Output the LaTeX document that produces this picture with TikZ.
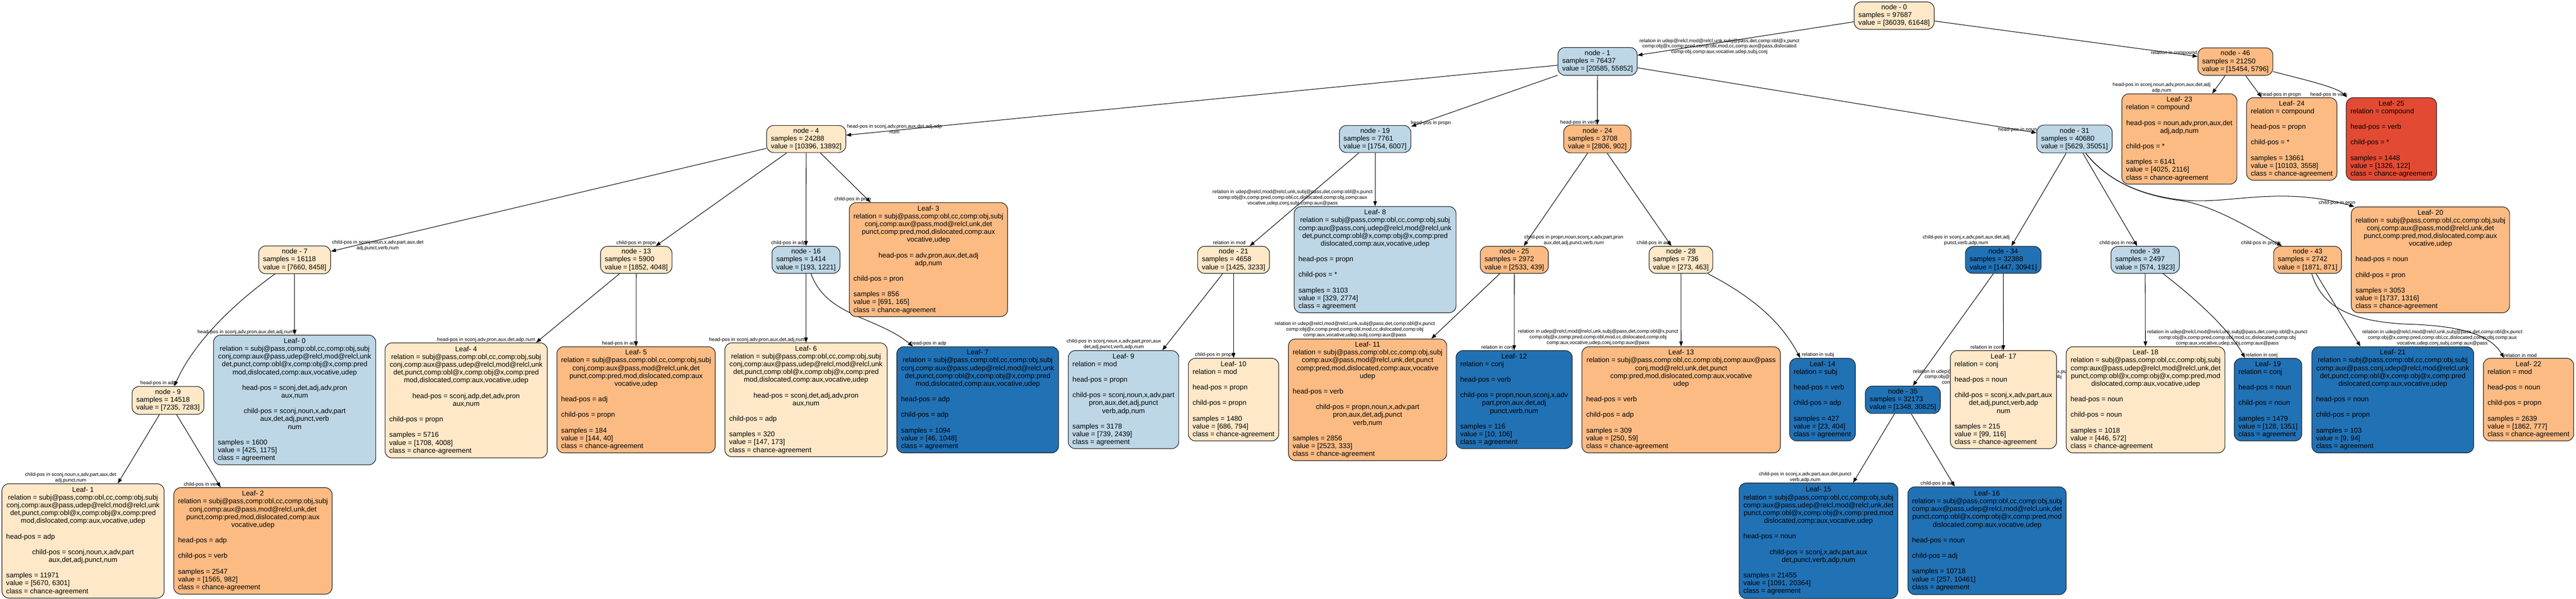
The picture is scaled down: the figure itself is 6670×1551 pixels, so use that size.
\documentclass[tikz,border=0pt]{standalone}
\usepackage{fontspec}
\setmainfont{Liberation Sans}
\usetikzlibrary{arrows.meta,calc}
\pgfdeclarelayer{bgw}
\pgfdeclarelayer{edges}
\pgfsetlayers{bgw,edges,main}
\definecolor{cBeige}{HTML}{FEE8C8}
\definecolor{cOrange}{HTML}{FDBB84}
\definecolor{cRed}{HTML}{E34A33}
\definecolor{cLBlue}{HTML}{BDD7E7}
\definecolor{cDBlue}{HTML}{2171B5}
\newcommand\tcS{\vrule width0pt height14.7pt depth5.5pt}
\newcommand\tcC[1]{\hbox to\hsize{\hfil\tcS#1\hfil}}
\newcommand\tcL[1]{\hbox to\hsize{\tcS#1\hfil}}
\newcommand\tcB{\hbox to\hsize{\tcS\hfil}}
\newcommand\tcBox[2]{\vbox{\hsize=#1pt\relax\baselineskip=20.2pt\lineskiplimit=-100pt\lineskip=0pt\relax#2}}
\newcommand\tcNode[3]{\tcC{node - #1}\tcL{samples = #2}\tcL{value = #3}}
\newcommand\tcEnd[3]{\tcL{samples = #1}\tcL{value = #2}\tcL{class = #3}}
\newcommand\tcRelA{\tcC{relation = subj@pass,comp:obl,cc,comp:obj,subj}\tcC{conj,comp:aux@pass,udep@relcl,mod@relcl,unk}\tcC{det,punct,comp:obl@x,comp:obj@x,comp:pred}\tcC{mod,dislocated,comp:aux,vocative,udep}}
\newcommand\tcRelB{\tcC{relation = subj@pass,comp:obl,cc,comp:obj,subj}\tcC{conj,comp:aux@pass,mod@relcl,unk,det}\tcC{punct,comp:pred,mod,dislocated,comp:aux}\tcC{vocative,udep}}
\newcommand\tcRelC{\tcC{relation = subj@pass,comp:obl,cc,comp:obj,subj}\tcC{comp:aux@pass,conj,udep@relcl,mod@relcl,unk}\tcC{det,punct,comp:obl@x,comp:obj@x,comp:pred}\tcC{dislocated,comp:aux,vocative,udep}}
\newcommand\tcRelD{\tcC{relation = subj@pass,comp:obl,cc,comp:obj,subj}\tcC{comp:aux@pass,udep@relcl,mod@relcl,unk,det}\tcC{punct,comp:obl@x,comp:obj@x,comp:pred,mod}\tcC{dislocated,comp:aux,vocative,udep}}
\begin{document}
\begin{tikzpicture}[x=1pt,y=-1pt,
 tbox/.style={draw=black!85, line width=1.6pt, rounded corners=18pt, inner sep=0pt, font=\fontsize{18.1}{20.2}\selectfont, text=black},
 conn/.style={draw=black, line width=1.4pt, -{Triangle[length=13pt,width=9.5pt]}},
 lbl/.style={font=\fontsize{12.9}{14.5}\selectfont, align=center, inner sep=0pt, text=black}]
\useasboundingbox (0,0) rectangle (6670,1551);
\begin{pgfonlayer}{bgw}
\fill[white] (0,0) rectangle (6670,1551);
\end{pgfonlayer}

% ---------- internal nodes ----------
\node[tbox, fill=cBeige, minimum width=207pt, minimum height=71pt] (n0) at (4904.5,40.5) {\tcBox{185}{\tcNode{0}{97687}{[36039, 61648]}}};
\node[tbox, fill=cLBlue, minimum width=205pt, minimum height=72pt] (n1) at (4136.5,159) {\tcBox{183}{\tcNode{1}{76437}{[20585, 55852]}}};
\node[tbox, fill=cOrange, minimum width=194pt, minimum height=71pt] (n46) at (5788,159.5) {\tcBox{172}{\tcNode{46}{21250}{[15454, 5796]}}};
\node[tbox, fill=cBeige, minimum width=205pt, minimum height=70pt] (n4) at (2087.5,360) {\tcBox{183}{\tcNode{4}{24288}{[10396, 13892]}}};
\node[tbox, fill=cLBlue, minimum width=185pt, minimum height=70pt] (n19) at (3560.5,360) {\tcBox{163}{\tcNode{19}{7761}{[1754, 6007]}}};
\node[tbox, fill=cOrange, minimum width=174pt, minimum height=72pt] (n24) at (4136,360) {\tcBox{152}{\tcNode{24}{3708}{[2806, 902]}}};
\node[tbox, fill=cLBlue, minimum width=195pt, minimum height=72pt] (n31) at (5371.5,360) {\tcBox{173}{\tcNode{31}{40680}{[5629, 35051]}}};
\node[tbox, fill=cBeige, minimum width=186pt, minimum height=72pt] (n7) at (763,673) {\tcBox{164}{\tcNode{7}{16118}{[7660, 8458]}}};
\node[tbox, fill=cBeige, minimum width=185pt, minimum height=70pt] (n13) at (1647.5,673) {\tcBox{163}{\tcNode{13}{5900}{[1852, 4048]}}};
\node[tbox, fill=cLBlue, minimum width=176pt, minimum height=70pt] (n16) at (2087,673) {\tcBox{154}{\tcNode{16}{1414}{[193, 1221]}}};
\node[tbox, fill=cBeige, minimum width=186pt, minimum height=70pt] (n21) at (3194,673) {\tcBox{164}{\tcNode{21}{4658}{[1425, 3233]}}};
\node[tbox, fill=cOrange, minimum width=176pt, minimum height=70pt] (n25) at (3921,673) {\tcBox{154}{\tcNode{25}{2972}{[2533, 439]}}};
\node[tbox, fill=cBeige, minimum width=165pt, minimum height=70pt] (n28) at (4352.5,673) {\tcBox{145}{\tcNode{28}{736}{[273, 463]}}};
\node[tbox, fill=cDBlue, minimum width=196pt, minimum height=70pt] (n34) at (5187,673) {\tcBox{174}{\tcNode{34}{32388}{[1447, 30941]}}};
\node[tbox, fill=cLBlue, minimum width=177pt, minimum height=70pt] (n39) at (5554.5,673) {\tcBox{155}{\tcNode{39}{2497}{[574, 1923]}}};
\node[tbox, fill=cOrange, minimum width=176pt, minimum height=70pt] (n43) at (5975,673) {\tcBox{154}{\tcNode{43}{2742}{[1871, 871]}}};
\node[tbox, fill=cBeige, minimum width=186pt, minimum height=72pt] (n9) at (435,1037) {\tcBox{164}{\tcNode{9}{14518}{[7235, 7283]}}};
\node[tbox, fill=cDBlue, minimum width=194pt, minimum height=71pt] (n35) at (4927,1035.5) {\tcBox{172}{\tcNode{35}{32173}{[1348, 30825]}}};

% ---------- leaves ----------
\node[tbox, fill=cOrange, minimum width=298pt, minimum height=234pt] (L23) at (5643,360) {\tcBox{276}{\tcC{Leaf- 23}\tcL{relation = compound}\tcB\tcC{head-pos = noun,adv,pron,aux,det}\tcC{adj,adp,num}\tcB\tcL{child-pos = *}\tcB\tcEnd{6141}{[4025, 2116]}{chance-agreement}}};
\node[tbox, fill=cOrange, minimum width=234pt, minimum height=214pt] (L24) at (5934,360) {\tcBox{212}{\tcC{Leaf- 24}\tcL{relation = compound}\tcB\tcL{head-pos = propn}\tcB\tcL{child-pos = *}\tcB\tcEnd{13661}{[10103, 3558]}{chance-agreement}}};
\node[tbox, fill=cRed, minimum width=234pt, minimum height=214pt] (L25) at (6192,360) {\tcBox{212}{\tcC{Leaf- 25}\tcL{relation = compound}\tcB\tcL{head-pos = verb}\tcB\tcL{child-pos = *}\tcB\tcEnd{1448}{[1326, 122]}{chance-agreement}}};
\node[tbox, fill=cOrange, minimum width=410pt, minimum height=295pt] (L3) at (2404,672.5) {\tcBox{388}{\tcC{Leaf- 3}\tcRelB\tcB\tcC{head-pos = adv,pron,aux,det,adj}\tcC{adp,num}\tcB\tcL{child-pos = pron}\tcB\tcEnd{856}{[691, 165]}{chance-agreement}}};
\node[tbox, fill=cLBlue, minimum width=419pt, minimum height=275pt] (L8) at (3560.5,672.5) {\tcBox{397}{\tcC{Leaf- 8}\tcRelC\tcB\tcL{head-pos = propn}\tcB\tcL{child-pos = *}\tcB\tcEnd{3103}{[329, 2774]}{agreement}}};
\node[tbox, fill=cOrange, minimum width=410pt, minimum height=274pt] (L20) at (6293,673) {\tcBox{388}{\tcC{Leaf- 20}\tcRelB\tcB\tcL{head-pos = noun}\tcB\tcL{child-pos = pron}\tcB\tcEnd{3053}{[1737, 1316]}{chance-agreement}}};
\node[tbox, fill=cLBlue, minimum width=420pt, minimum height=336pt] (L0) at (763,1036) {\tcBox{398}{\tcC{Leaf- 0}\tcRelA\tcB\tcC{head-pos = sconj,det,adj,adv,pron}\tcC{aux,num}\tcB\tcC{child-pos = sconj,noun,x,adv,part}\tcC{aux,det,adj,punct,verb}\tcC{num}\tcB\tcEnd{1600}{[425, 1175]}{agreement}}};
\node[tbox, fill=cBeige, minimum width=420pt, minimum height=298pt] (L4) at (1207,1037) {\tcBox{398}{\tcC{Leaf- 4}\tcRelA\tcB\tcC{head-pos = sconj,adp,det,adv,pron}\tcC{aux,num}\tcB\tcL{child-pos = propn}\tcB\tcEnd{5716}{[1708, 4008]}{chance-agreement}}};
\node[tbox, fill=cOrange, minimum width=410pt, minimum height=275pt] (L5) at (1647,1035.5) {\tcBox{388}{\tcC{Leaf- 5}\tcRelB\tcB\tcL{head-pos = adj}\tcB\tcL{child-pos = propn}\tcB\tcEnd{184}{[144, 40]}{chance-agreement}}};
\node[tbox, fill=cBeige, minimum width=420pt, minimum height=295pt] (L6) at (2087,1035.5) {\tcBox{398}{\tcC{Leaf- 6}\tcRelA\tcB\tcC{head-pos = sconj,det,adj,adv,pron}\tcC{aux,num}\tcB\tcL{child-pos = adp}\tcB\tcEnd{320}{[147, 173]}{chance-agreement}}};
\node[tbox, fill=cDBlue, minimum width=419pt, minimum height=275pt] (L7) at (2531.5,1035.5) {\tcBox{397}{\tcC{Leaf- 7}\tcRelA\tcB\tcL{head-pos = adp}\tcB\tcL{child-pos = adp}\tcB\tcEnd{1094}{[46, 1048]}{agreement}}};
\node[tbox, fill=cLBlue, minimum width=286pt, minimum height=254pt] (L9) at (2909,1035) {\tcBox{264}{\tcC{Leaf- 9}\tcL{relation = mod}\tcB\tcL{head-pos = propn}\tcB\tcC{child-pos = sconj,noun,x,adv,part}\tcC{pron,aux,det,adj,punct}\tcC{verb,adp,num}\tcB\tcEnd{3178}{[739, 2439]}{agreement}}};
\node[tbox, fill=cBeige, minimum width=234pt, minimum height=214pt] (L10) at (3194,1035) {\tcBox{212}{\tcC{Leaf- 10}\tcL{relation = mod}\tcB\tcL{head-pos = propn}\tcB\tcL{child-pos = propn}\tcB\tcEnd{1480}{[686, 794]}{chance-agreement}}};
\node[tbox, fill=cOrange, minimum width=410pt, minimum height=315pt] (L11) at (3541,1035.5) {\tcBox{388}{\tcC{Leaf- 11}\tcC{relation = subj@pass,comp:obl,cc,comp:obj,subj}\tcC{comp:aux@pass,mod@relcl,unk,det,punct}\tcC{comp:pred,mod,dislocated,comp:aux,vocative}\tcC{udep}\tcB\tcL{head-pos = verb}\tcB\tcC{child-pos = propn,noun,x,adv,part}\tcC{pron,aux,det,adj,punct}\tcC{verb,num}\tcB\tcEnd{2856}{[2523, 333]}{chance-agreement}}};
\node[tbox, fill=cDBlue, minimum width=301pt, minimum height=254pt] (L12) at (3920.5,1035) {\tcBox{279}{\tcC{Leaf- 12}\tcL{relation = conj}\tcB\tcL{head-pos = verb}\tcB\tcC{child-pos = propn,noun,sconj,x,adv}\tcC{part,pron,aux,det,adj}\tcC{punct,verb,num}\tcB\tcEnd{116}{[10, 106]}{agreement}}};
\node[tbox, fill=cOrange, minimum width=514pt, minimum height=275pt] (L13) at (4353,1035.5) {\tcBox{492}{\tcC{Leaf- 13}\tcC{relation = subj@pass,comp:obl,cc,comp:obj,comp:aux@pass}\tcC{conj,mod@relcl,unk,det,punct}\tcC{comp:pred,mod,dislocated,comp:aux,vocative}\tcC{udep}\tcB\tcL{head-pos = verb}\tcB\tcL{child-pos = adp}\tcB\tcEnd{309}{[250, 59]}{chance-agreement}}};
\node[tbox, fill=cDBlue, minimum width=170pt, minimum height=214pt] (L14) at (4719,1035) {\tcBox{150}{\tcC{Leaf- 14}\tcL{relation = subj}\tcB\tcL{head-pos = verb}\tcB\tcL{child-pos = adp}\tcB\tcEnd{427}{[23, 404]}{agreement}}};
\node[tbox, fill=cBeige, minimum width=275pt, minimum height=254pt] (L17) at (5187.5,1035) {\tcBox{253}{\tcC{Leaf- 17}\tcL{relation = conj}\tcB\tcL{head-pos = noun}\tcB\tcC{child-pos = sconj,x,adv,part,aux}\tcC{det,adj,punct,verb,adp}\tcC{num}\tcB\tcEnd{215}{[99, 116]}{chance-agreement}}};
\node[tbox, fill=cBeige, minimum width=411pt, minimum height=275pt] (L18) at (5555.5,1035.5) {\tcBox{389}{\tcC{Leaf- 18}\tcRelD\tcB\tcL{head-pos = noun}\tcB\tcL{child-pos = noun}\tcB\tcEnd{1018}{[446, 572]}{chance-agreement}}};
\node[tbox, fill=cDBlue, minimum width=175pt, minimum height=214pt] (L19) at (5872.5,1035) {\tcBox{153}{\tcC{Leaf- 19}\tcL{relation = conj}\tcB\tcL{head-pos = noun}\tcB\tcL{child-pos = noun}\tcB\tcEnd{1479}{[128, 1351]}{agreement}}};
\node[tbox, fill=cDBlue, minimum width=419pt, minimum height=275pt] (L21) at (6195.5,1035.5) {\tcBox{397}{\tcC{Leaf- 21}\tcRelC\tcB\tcL{head-pos = noun}\tcB\tcL{child-pos = propn}\tcB\tcEnd{103}{[9, 94]}{agreement}}};
\node[tbox, fill=cOrange, minimum width=234pt, minimum height=214pt] (L22) at (6547,1035) {\tcBox{212}{\tcC{Leaf- 22}\tcL{relation = mod}\tcB\tcL{head-pos = noun}\tcB\tcL{child-pos = propn}\tcB\tcEnd{2639}{[1862, 777]}{chance-agreement}}};
\node[tbox, fill=cBeige, minimum width=420pt, minimum height=296pt] (L1) at (215,1401) {\tcBox{398}{\tcC{Leaf- 1}\tcRelA\tcB\tcL{head-pos = adp}\tcB\tcC{child-pos = sconj,noun,x,adv,part}\tcC{aux,det,adj,punct,num}\tcB\tcEnd{11971}{[5670, 6301]}{chance-agreement}}};
\node[tbox, fill=cOrange, minimum width=410pt, minimum height=276pt] (L2) at (655,1401) {\tcBox{388}{\tcC{Leaf- 2}\tcRelB\tcB\tcL{head-pos = adp}\tcB\tcL{child-pos = verb}\tcB\tcEnd{2547}{[1565, 982]}{chance-agreement}}};
\node[tbox, fill=cDBlue, minimum width=411pt, minimum height=299pt] (L15) at (4708.5,1400.5) {\tcBox{389}{\tcC{Leaf- 15}\tcRelD\tcB\tcL{head-pos = noun}\tcB\tcC{child-pos = sconj,x,adv,part,aux}\tcC{det,punct,verb,adp,num}\tcB\tcEnd{21455}{[1091, 20364]}{agreement}}};
\node[tbox, fill=cDBlue, minimum width=410pt, minimum height=279pt] (L16) at (5145,1400.5) {\tcBox{388}{\tcC{Leaf- 16}\tcRelD\tcB\tcL{head-pos = noun}\tcB\tcL{child-pos = adj}\tcB\tcEnd{10718}{[257, 10461]}{agreement}}};

% ---------- connectors and labels ----------
\begin{pgfonlayer}{edges}
\draw[conn] (n0) -- (n1);
\draw[conn] (n0) -- (n46);
\draw[conn] (n1) -- (n4);
\draw[conn] (n1) -- (n19);
\draw[conn] (n1) -- (n24);
\draw[conn] (n1) -- (n31);
\draw[conn] (n46) -- (L23);
\draw[conn] (n46) -- (L24);
\draw[conn] (n46) .. controls (5960,205) and (6050,225) .. ($(L25.north west)+(3,0)$);
\draw[conn] (n4) -- (n7);
\draw[conn] (n4) -- (n13);
\draw[conn] (n4) -- (n16);
\draw[conn] (n4) -- (L3);
\draw[conn] (n19) -- (n21);
\draw[conn] (n19) -- (L8);
\draw[conn] (n24) -- (n25);
\draw[conn] (n24) -- (n28);
\draw[conn] (n31) -- (n34);
\draw[conn] (n31) -- (n39);
\draw[conn] (n31) .. controls (5450,460) and (5530,505) .. (5650,520) .. controls (5740,535) and (5840,600) .. (n43);
\draw[conn] (n31) .. controls (5450,460) and (5530,505) .. (5650,518) .. controls (5770,531) and (5900,480) .. ($(L20.north west)+(9,0)$);
\draw[conn] (n7) .. controls (600,790) and (500,890) .. (n9);
\draw[conn] (n7) -- (L0);
\draw[conn] (n13) -- (L4);
\draw[conn] (n13) -- (L5);
\draw[conn] (n16) -- (L6);
\draw[conn] (n16) .. controls (2140,820) and (2270,820) .. (L7);
\draw[conn] (n21) -- (L9);
\draw[conn] (n21) -- (L10);
\draw[conn] (n25) -- (L11);
\draw[conn] (n25) -- (L12);
\draw[conn] (n28) -- (L13);
\draw[conn] (n28) .. controls (4560,780) and (4620,850) .. (L14);
\draw[conn] (n34) -- (n35);
\draw[conn] (n34) -- (L17);
\draw[conn] (n39) -- (L18);
\draw[conn] (n39) .. controls (5680,770) and (5770,850) .. (L19);
\draw[conn] (n43) -- (L21);
\draw[conn] (n43) .. controls (6010,790) and (6080,835) .. (6246,840) .. controls (6380,845) and (6450,870) .. (L22);
\draw[conn] (n9) -- (L1);
\draw[conn] (n9) -- (L2);
\draw[conn] (n35) -- (L15);
\draw[conn] (n35) -- (L16);

\node[lbl] (e1) at (4452,120.7) {relation in udep@relcl,mod@relcl,unk,subj@pass,det,comp:obl@x,punct\\comp:obj@x,comp:pred,comp:obl,mod,cc,comp:aux@pass,dislocated\\comp:obj,comp:aux,vocative,udep,subj,conj};
\node[lbl] (e2) at (5629,138) {relation in compound};
\node[lbl] (e3) at (2316,334) {head-pos in sconj,adv,pron,aux,det,adj,adp\\num};
\node[lbl] (e4) at (3705,319) {head-pos in propn};
\node[lbl] (e5) at (4088,317) {head-pos in verb};
\node[lbl] (e6) at (5224,336) {head-pos in noun};
\node[lbl] (e7) at (5597,227) {head-pos in sconj,noun,adv,pron,aux,det,adj\\adp,num};
\node[lbl] (e8) at (5906,245) {head-pos in propn};
\node[lbl] (e9) at (6030,245) {head-pos in verb};
\node[lbl] (e10) at (978,636) {child-pos in sconj,noun,x,adv,part,aux,det\\adj,punct,verb,num};
\node[lbl] (e11) at (1647,629) {child-pos in propn};
\node[lbl] (e12) at (2042,629) {child-pos in adp};
\node[lbl] (e13) at (2208,516) {child-pos in pron};
\node[lbl] (e14) at (410,993) {head-pos in adp};
\node[lbl] (e15) at (636,860) {head-pos in sconj,adv,pron,aux,det,adj,num};
\node[lbl] (e16) at (183,1237) {child-pos in sconj,noun,x,adv,part,aux,det\\adj,punct,num};
\node[lbl] (e17) at (523,1255) {child-pos in verb};
\node[lbl] (e18) at (1259,880) {head-pos in sconj,adv,pron,aux,det,adp,num};
\node[lbl] (e19) at (1603,890) {head-pos in adj};
\node[lbl] (e20) at (1961,880) {head-pos in sconj,adv,pron,aux,det,adj,num};
\node[lbl] (e21) at (2404,890) {head-pos in adp};
\node[lbl] (e22) at (3183,629) {relation in mod};
\node[lbl] (e23) at (3347,512) {relation in udep@relcl,mod@relcl,unk,subj@pass,det,comp:obl@x,punct\\comp:obj@x,comp:pred,comp:obl,cc,dislocated,comp:obj,comp:aux\\vocative,udep,conj,subj,comp:aux@pass};
\node[lbl] (e24) at (2884,892) {child-pos in sconj,noun,x,adv,part,pron,aux\\det,adj,punct,verb,adp,num};
\node[lbl] (e25) at (3145,919) {child-pos in propn};
\node[lbl] (e26) at (4075,622) {child-pos in propn,noun,sconj,x,adv,part,pron\\aux,det,adj,punct,verb,num};
\node[lbl] (e27) at (4281,629) {child-pos in adj};
\node[lbl] (e28) at (3508,854) {relation in udep@relcl,mod@relcl,unk,subj@pass,det,comp:obl@x,punct\\comp:obj@x,comp:pred,comp:obl,mod,cc,dislocated,comp:obj\\comp:aux,vocative,udep,subj,comp:aux@pass};
\node[lbl] (e29) at (3877,900) {relation in conj};
\node[lbl] (e30) at (4138,874) {relation in udep@relcl,mod@relcl,unk,subj@pass,det,comp:obl@x,punct\\comp:obj@x,comp:pred,comp:obl,mod,cc,dislocated,comp:obj\\comp:aux,vocative,udep,conj,comp:aux@pass};
\node[lbl] (e31) at (4707,919) {relation in subj};
\node[lbl] (e32) at (5091,622) {child-pos in sconj,x,adv,part,aux,det,adj\\punct,verb,adp,num};
\node[lbl] (e33) at (5485,629) {child-pos in noun};
\node[lbl] (e34) at (5854,629) {child-pos in propn};
\node[lbl] (e35) at (6051,526) {child-pos in pron};
\node[lbl] (e36) at (5161,977) {relation in udep@relcl,mod@relcl,unk,subj@pass,det,comp:obl@x,punct\\comp:obj@x,comp:pred,comp:obl,mod,cc,dislocated,comp:obj\\comp:aux,vocative,udep,subj,comp:aux@pass};
\node[lbl] (e37) at (5144,900) {relation in conj};
\node[lbl] (e38) at (4674,1236) {child-pos in sconj,x,adv,part,aux,det,punct\\verb,adp,num};
\node[lbl] (e39) at (5016,1253) {child-pos in adj};
\node[lbl] (e40) at (5767,875) {relation in udep@relcl,mod@relcl,unk,subj@pass,det,comp:obl@x,punct\\comp:obj@x,comp:pred,comp:obl,mod,cc,dislocated,comp:obj\\comp:aux,vocative,udep,subj,comp:aux@pass};
\node[lbl] (e41) at (5856,920) {relation in conj};
\node[lbl] (e42) at (6324,875) {relation in udep@relcl,mod@relcl,unk,subj@pass,det,comp:obl@x,punct\\comp:obj@x,comp:pred,comp:obl,cc,dislocated,comp:obj,comp:aux\\vocative,udep,conj,subj,comp:aux@pass};
\node[lbl] (e43) at (6526,920) {relation in mod};
\end{pgfonlayer}
\end{tikzpicture}
\end{document}
